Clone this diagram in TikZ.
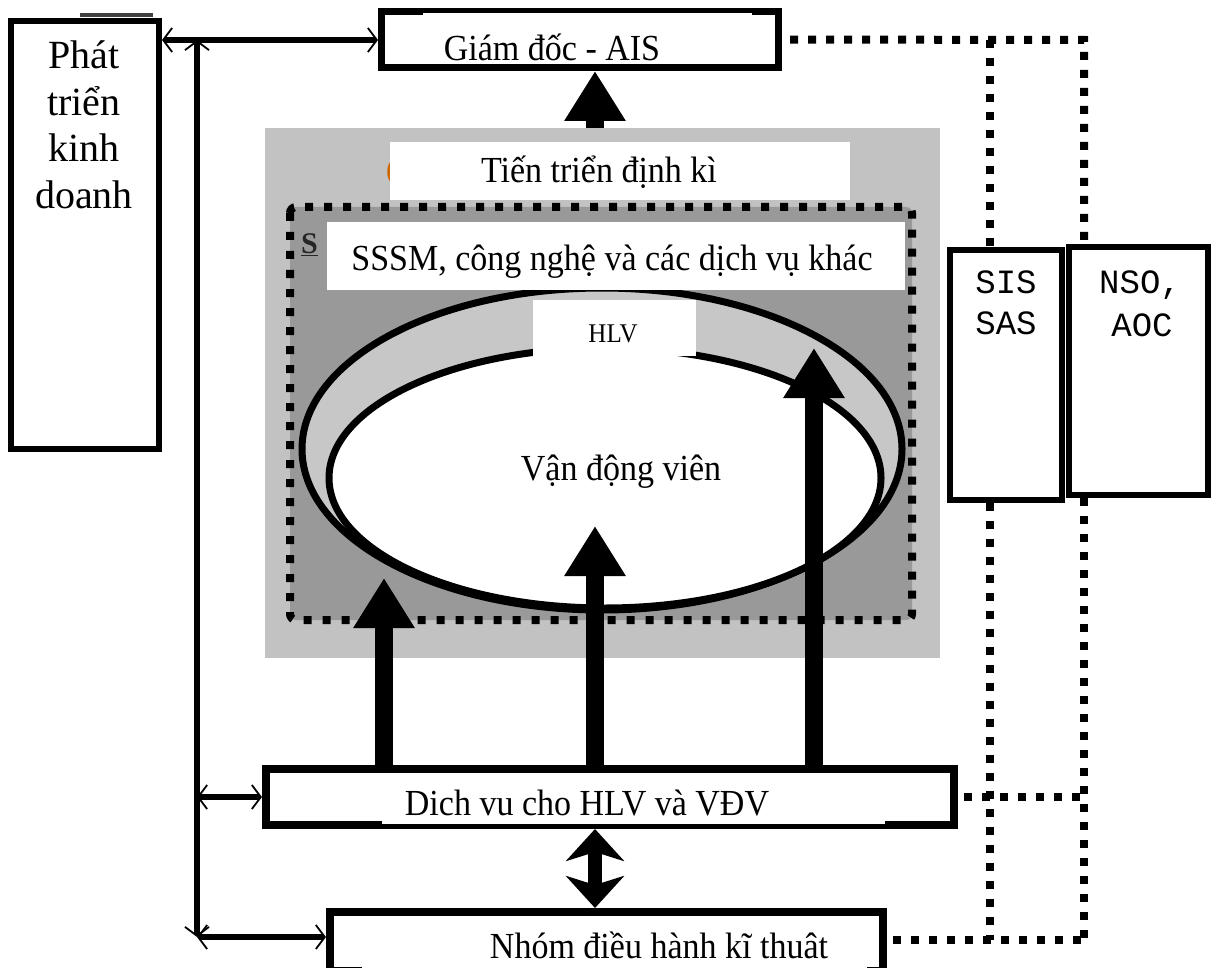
\documentclass[tikz,border=0pt]{standalone}
\usepackage{graphicx}
\usepackage{fontspec}
\setmainfont{Liberation Serif}
\setmonofont{Liberation Mono}
\usetikzlibrary{arrows.meta,calc}
\newcommand{\fsz}[1]{\fontsize{#1}{#1}\selectfont}
\newcommand{\vs}[1]{\scalebox{1}[1.08]{#1}}
\tikzset{
  mybarb/.tip={Straight Barb[length=9pt,width=24pt,line width=1.8pt]},
  box/.style={draw, rectangle, inner sep=0pt, fill=white},
  lbl/.style={anchor=base, inner sep=0pt, font=\fsz{34}},
  cover/.style={fill=white, draw=none, rectangle, inner sep=0pt},
  bus/.style={line width=6pt},
  dots/.style={line width=8pt, dash pattern=on 8pt off 10pt},
  big/.style={line width=18pt, -{Triangle[length=50pt,width=58pt]}},
  dbl/.style={line width=14pt, {Stealth[length=32pt,width=58pt,inset=9pt]}-{Stealth[length=32pt,width=58pt,inset=9pt]}},
  monot/.style={anchor=base, inner sep=0pt, font=\ttfamily\fsz{34}},
  phatt/.style={anchor=base, inner sep=0pt, font=\fsz{40}}
}
\begin{document}
\begin{tikzpicture}[x=1pt,y=-1pt]
\useasboundingbox (0,0) rectangle (1212,968);

% central shaded region
\fill[black!24] (265,128) rectangle (940,658);
\fill[black!40, rounded corners=6pt] (290,207) rectangle (912,620);
\filldraw[fill=black!22, line width=7pt] (602,449) ellipse [x radius=300pt, y radius=161pt];
\filldraw[fill=white, line width=7pt] (605,478) ellipse [x radius=276pt, y radius=130pt];
\draw[dots, dash pattern=on 8pt off 11pt, rounded corners=6pt] (290,207) rectangle (912,620);

% partly hidden fragments
\node[anchor=base west, inner sep=0pt, font=\bfseries\fsz{30}, text=black!85] (sfrag) at (301,254) {\underline{S}};
\node[anchor=base, inner sep=0pt, font=\fsz{30}, text=orange!80!black] (pfrag) at (391,180) {(};

% white label boxes
\node[cover, minimum width=460pt, minimum height=58pt] (tien) at (620,171) {};
\node[cover, minimum width=578pt, minimum height=68pt] (sssm) at (616,256) {};
\node[cover, minimum width=163pt, minimum height=56pt] (hlvbox) at (614.5,328) {};
\node[lbl] (tientxt) at (599,183) {\vs{Tiến triển định kì}};
\node[lbl] (sssmtxt) at (612,270) {\vs{SSSM, công nghệ và các dịch vụ khác}};
\node[lbl, font=\fsz{25}] (hlvtxt) at (613,342) {\vs{HLV}};
\node[lbl] (vdv) at (621,480) {\vs{Vận động viên}};

% boxes
\draw[line width=4pt, black!75] (80,15) -- (153,15);
\node[box, line width=6pt, minimum width=148pt, minimum height=428pt] (phat) at (85,235) {};
\node[phatt] (p1) at (84,69) {Phát};
\node[phatt] (p2) at (84,116) {triển};
\node[phatt] (p3) at (84,162) {kinh};
\node[phatt] (p4) at (84,209) {doanh};

\node[box, line width=7pt, minimum width=397pt, minimum height=56pt] (gd) at (580,39.5) {};
\fill[white] (423,13) rectangle (752,63);
\node[lbl] (gdtxt) at (552,61) {\vs{Giám đốc - AIS}};

\node[box, line width=8pt, minimum width=688pt, minimum height=56pt] (dv) at (610,797) {};
\fill[white] (382,775) rectangle (885,824);
\node[lbl] (dvtxt) at (587,815) {\vs{Dich vu cho HLV và VĐV}};

\node[box, line width=8pt, minimum width=553pt, minimum height=59pt] (nhom) at (606.5,941.5) {};
\fill[white] (362,918) rectangle (867,985);
\node[lbl] (nhomtxt) at (659,958) {\vs{Nhóm điều hành kĩ thuât}};

\node[box, line width=6pt, minimum width=112pt, minimum height=250pt] (sis) at (1006,375) {};
\node[box, line width=6pt, minimum width=139pt, minimum height=248pt] (nso) at (1138.5,371) {};
\node[monot] (sis1) at (1006,293) {SIS};
\node[monot] (sis2) at (1006,334) {SAS};
\node[monot] (nso1) at (1140,293) {NSO,};
\node[monot] (nso2) at (1142,336) {AOC};

% big arrows
\coordinate (tl) at (384,578);
\coordinate (tm) at (595,526);
\coordinate (tr) at (814,348);
\coordinate (ttop) at (595,128);
\draw[big] (dv.north -| tl) -- (tl);
\draw[big] (dv.north -| tm) -- (tm);
\draw[big] (dv.north -| tr) -- (tr);
\draw[big] (ttop) -- (gd.south -| ttop);
\draw[dbl] (dv.south -| tm) -- (nhom.north -| tm);

% left bus
\coordinate (bt) at (197,40);
\coordinate (bb) at (197,937);
\draw[bus, mybarb-mybarb] (bt) -- (bb);
\draw[bus, mybarb-mybarb] (phat.east |- bt) -- (gd.west |- bt);
\draw[bus, mybarb-mybarb] (dv.west -| bt) -- (dv.west);
\draw[bus, mybarb-mybarb] (bb) -- (nhom.west |- bb);

% dotted links
\coordinate (lt) at (990,40);
\coordinate (rt) at (1084,40);
\coordinate (lb) at (990,940);
\coordinate (rb) at (1084,940);
\draw[dots, shorten <=8pt] (gd.east) -- (rt) -- (nso.north -| rt);
\draw[dots] (lt) -- (sis.north -| lt);
\draw[dots] (sis.south -| lb) -- (lb);
\draw[dots] (nso.south -| rb) -- (rb);
\draw[dots, shorten <=6pt] (nhom.east |- rb) -- (rb);
\draw[dots, shorten <=6pt] (dv.east) -- (dv.east -| rb);
\end{tikzpicture}
\end{document}
